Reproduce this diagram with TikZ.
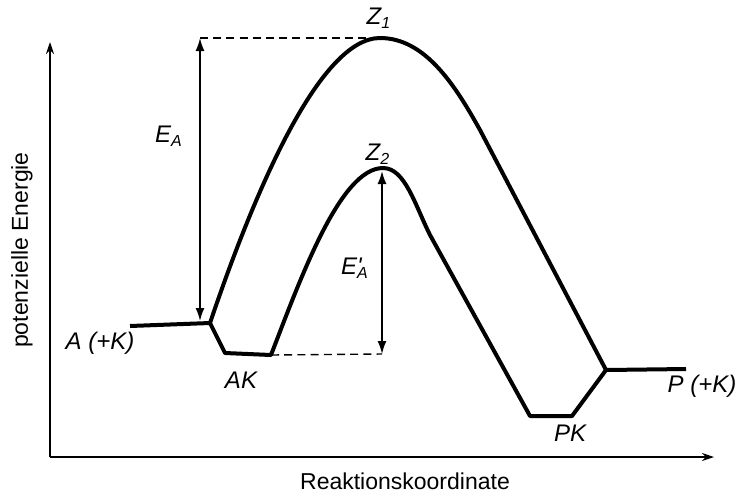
\documentclass[tikz,border=0pt]{standalone}
\usepackage{fontspec}
\setmainfont{Liberation Sans}
\usetikzlibrary{arrows.meta}

\begin{document}
\begin{tikzpicture}[x=0.5pt, y=-0.5pt,
  curve/.style={line width=2pt, line join=round},
  level/.style={line width=0.7pt, dash pattern=on 4pt off 2.6pt},
  barrier/.style={line width=0.8pt, {Latex[length=6.5pt,width=4.5pt]}-{Latex[length=6.5pt,width=4.5pt]}},
  axis/.style={line width=0.7pt, -{Stealth[length=6pt,width=4pt]}},
  axislabel/.style={font=\fontsize{11.5}{13}\selectfont, inner sep=0pt},
  term/.style={font=\fontsize{12}{14}\selectfont\itshape, inner sep=0pt}]
  \useasboundingbox (0,0) rectangle (742,493);
  % Key points of the energy profile
  \coordinate (a0) at (130,326);
  \coordinate (a1) at (210,323);
  \coordinate (ak0) at (225,353);
  \coordinate (ak1) at (271,355);
  \coordinate (z1) at (380,38);
  \coordinate (z2) at (383,168);
  \coordinate (pk0) at (530,416);
  \coordinate (pk1) at (572,416);
  \coordinate (p0) at (606,370);
  \coordinate (p1) at (686,369);
  % Axes
  \coordinate (o) at (50,457);
  \coordinate (ytop) at (50,42);
  \coordinate (xend) at (714,457);
  \draw[axis] (o) -- (ytop);
  \draw[axis] (o) -- (xend);
  \node[axislabel, rotate=90] (ylabel) at (22,250) {potenzielle Energie};
  \node[axislabel] (xlabel) at (405,481) {Reaktionskoordinate};
  % Path without catalyst (over Z1)
  \draw[curve] (a0) -- (a1) .. controls (255,190) and (320,38) .. (z1)
    .. controls (425,38) and (455,85) .. (480,130) -- (p0) -- (p1);
  % Path with catalyst (over Z2)
  \draw[curve] (a1) -- (ak0) -- (ak1) .. controls (300,280) and (340,168) .. (z2)
    .. controls (405,168) and (415,205) .. (430,235) -- (pk0) -- (pk1) -- (p0);
  % Activation energies
  \coordinate (ea0) at (200,321);
  \coordinate (ea1) at (200,38);
  \coordinate (eb0) at (382,354);
  \coordinate (eb1) at (382,171);
  \draw[level] (ea1) -- (z1);
  \draw[level] (ak1) -- (eb0);
  \draw[barrier] (ea0) -- (ea1);
  \draw[barrier] (eb0) -- (eb1);
  \node[term] (ealabel) at (169,136) {E\textsubscript{A}};
  \node[term] (eblabel) at (355,268) {E\rlap{\textquotesingle}\textsubscript{A}};
  % States
  \node[term] (z1label) at (379,18) {Z\textsubscript{1}};
  \node[term] (z2label) at (378,154) {Z\textsubscript{2}};
  \node[term] (alabel) at (100,343) {A (+K)};
  \node[term] (aklabel) at (241,380) {AK};
  \node[term] (pklabel) at (570,433) {PK};
  \node[term] (plabel) at (702,386) {P (+K)};
\end{tikzpicture}
\end{document}
